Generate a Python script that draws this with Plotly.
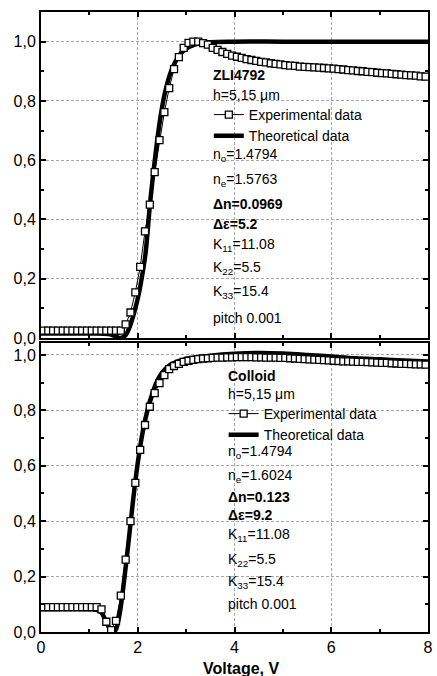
import plotly.graph_objects as go

# ---------------- data ----------------
exp_x = [round(0.05 + 0.1 * i, 2) for i in range(80)]

top_exp_y = [0.025] * 17 + [
    0.046, 0.086, 0.154, 0.24, 0.36, 0.45, 0.56, 0.668, 0.762, 0.843,
    0.907, 0.948, 0.979, 0.996, 1.0, 1.0, 0.995, 0.99, 0.979, 0.972,
    0.965, 0.959, 0.953, 0.949, 0.945, 0.941, 0.938, 0.935, 0.932, 0.93,
    0.927, 0.925, 0.923, 0.921, 0.919, 0.918, 0.916, 0.915, 0.914, 0.913,
    0.912, 0.911, 0.91, 0.909, 0.907, 0.906, 0.904, 0.903, 0.901, 0.9,
    0.898, 0.897, 0.895, 0.894, 0.893, 0.891, 0.89, 0.889, 0.887, 0.886,
    0.885, 0.883, 0.882]

top_th_x = [0.0, 1.0, 1.4, 1.55, 1.65, 1.75, 1.85, 1.95, 2.02, 2.1, 2.16,
            2.26, 2.36, 2.46, 2.56, 2.7, 2.84, 2.97, 3.18, 3.5, 4.0, 5.0,
            6.0, 7.0, 8.0]
top_th_y = [0.015, 0.015, 0.013, 0.005, 0.0, 0.01, 0.045, 0.1, 0.148, 0.22,
            0.284, 0.464, 0.61, 0.735, 0.826, 0.905, 0.95, 0.973, 0.99,
            0.998, 1.0, 1.0, 1.0, 1.0, 1.0]

bot_exp_y = [0.09] * 12 + [
    0.082, 0.037, 0.007, 0.04, 0.131, 0.261, 0.40, 0.538, 0.657, 0.747,
    0.813, 0.862, 0.898, 0.927, 0.949, 0.96, 0.968, 0.975, 0.979, 0.982,
    0.985, 0.987, 0.988, 0.989, 0.99,
    0.99, 0.991, 0.991, 0.992, 0.992, 0.992, 0.992, 0.991, 0.991, 0.99,
    0.99, 0.99, 0.989,
    0.989, 0.988, 0.987, 0.986, 0.985, 0.984, 0.983, 0.982, 0.981, 0.98,
    0.979, 0.978, 0.977, 0.977, 0.976, 0.975, 0.975, 0.974, 0.973, 0.972,
    0.971, 0.971, 0.970, 0.969, 0.968, 0.968, 0.967, 0.966, 0.966, 0.965]

bot_th_x = [0.0, 1.0, 1.15, 1.25, 1.35, 1.45, 1.5, 1.55, 1.62, 1.7, 1.8,
            1.9, 2.0, 2.1, 2.2, 2.3, 2.4, 2.5, 2.6, 2.8, 3.0, 3.5, 4.0, 4.5,
            5.0, 5.5, 6.0, 6.5, 7.0, 7.5, 8.0]
bot_th_y = [0.082, 0.082, 0.08, 0.07, 0.035, 0.005, 0.0, 0.01, 0.06, 0.16,
            0.31, 0.47, 0.61, 0.72, 0.80, 0.86, 0.905, 0.935, 0.955, 0.975,
            0.985, 0.997, 1.004, 1.007, 1.005, 1.0, 0.994, 0.988, 0.984,
            0.98, 0.976]

x_tickvals = [0, 2, 4, 6, 8]
y_tickvals = [0.0, 0.2, 0.4, 0.6, 0.8, 1.0]
y_ticktext = ["0,0", "0,2", "0,4", "0,6", "0,8", "1,0"]

top_text = ["<b>ZLI4792</b>", "h=5,15 \u03bcm"]
top_params = ["n<sub>o</sub>=1.4794", "n<sub>e</sub>=1.5763",
              "<b>\u0394n=0.0969</b>", "<b>\u0394\u03b5=5.2</b>",
              "K<sub>11</sub>=11.08", "K<sub>22</sub>=5.5",
              "K<sub>33</sub>=15.4", "pitch 0.001"]
bot_text = ["<b>Colloid</b>", "h=5,15 \u03bcm"]
bot_params = ["n<sub>o</sub>=1.4794", "n<sub>e</sub>=1.6024",
              "<b>\u0394n=0.123</b>", "<b>\u0394\u03b5=9.2</b>",
              "K<sub>11</sub>=11.08", "K<sub>22</sub>=5.5",
              "K<sub>33</sub>=15.4", "pitch 0.001"]

# ---------------- layout helpers ----------------
W, H = 437, 676
ML, MR, MT, MB = 41, 4, 12, 44
PW, PH = W - ML - MR, H - MT - MB
FONT = "Liberation Sans, Arial, sans-serif"


def px(xp):
    return (xp - ML) / PW


def py(yp):
    return (H - MB - yp) / PH


fig = go.Figure()

exp_marker = dict(symbol="square", size=7, color="white",
                  line=dict(color="black", width=1.3))

fig.add_trace(go.Scatter(x=top_th_x, y=top_th_y, mode="lines",
                         line=dict(color="black", width=4.5, shape="spline"),
                         name="Theoretical data", xaxis="x", yaxis="y",
                         legend="legend", legendrank=2))
fig.add_trace(go.Scatter(x=exp_x, y=top_exp_y, mode="lines+markers",
                         line=dict(color="black", width=1),
                         marker=exp_marker, name="Experimental data",
                         xaxis="x", yaxis="y", legend="legend", legendrank=1))
fig.add_trace(go.Scatter(x=bot_th_x, y=bot_th_y, mode="lines",
                         line=dict(color="black", width=4.5, shape="spline"),
                         name="Theoretical data", xaxis="x2", yaxis="y2",
                         legend="legend2", legendrank=2))
fig.add_trace(go.Scatter(x=exp_x, y=bot_exp_y, mode="lines+markers",
                         line=dict(color="black", width=1),
                         marker=exp_marker, name="Experimental data",
                         xaxis="x2", yaxis="y2", legend="legend2",
                         legendrank=1))

axis_common = dict(showline=True, linecolor="black", linewidth=2,
                   mirror="ticks", ticks="inside", ticklen=5, tickwidth=1.5,
                   tickcolor="black", showgrid=True, gridcolor="#a8a8a8",
                   griddash="3px,2px", gridwidth=1, zeroline=False,
                   tickfont=dict(family=FONT, size=16, color="black"))

xaxis_common = dict(axis_common, range=[0, 8], tickvals=x_tickvals,
                    minor=dict(dtick=1, tick0=0, ticks="inside", ticklen=3,
                               tickwidth=1.5, tickcolor="black",
                               showgrid=False))
yaxis_common = dict(axis_common, tickvals=y_tickvals, ticktext=y_ticktext,
                    minor=dict(dtick=0.1, tick0=0, ticks="inside", ticklen=3,
                               tickwidth=1.5, tickcolor="black",
                               showgrid=False))

top_dom = [py(338), 1.0]
bot_dom = [0.0, py(343)]

annotations = []


def add_text(t, xp, yp, size=14):
    annotations.append(dict(text=t, x=px(xp), y=py(yp), xref="paper",
                            yref="paper", xanchor="left", yanchor="middle",
                            showarrow=False,
                            font=dict(family=FONT, size=size, color="black")))


for t, yp in zip(top_text, [75, 95]):
    add_text(t, 213, yp)
for t, yp in zip(top_params, [155, 180, 204, 224, 245, 268, 292, 318]):
    add_text(t, 213, yp)
for t, yp in zip(bot_text, [376, 394]):
    add_text(t, 228, yp)
for t, yp in zip(bot_params, [452, 476, 497, 515, 535, 560, 582, 604]):
    add_text(t, 228, yp)

annotations.append(dict(text="<b>Voltage, V</b>", x=px(244), y=py(668),
                        xref="paper", yref="paper", xanchor="center",
                        yanchor="middle", showarrow=False,
                        font=dict(family=FONT, size=16, color="black")))

legend_common = dict(bgcolor="rgba(0,0,0,0)", borderwidth=0,
                     xanchor="left", yanchor="top", tracegroupgap=0,
                     traceorder="normal", itemwidth=30,
                     font=dict(family=FONT, size=14, color="black"))

fig.update_layout(
    width=W, height=H,
    margin=dict(l=ML, r=MR, t=MT, b=MB, pad=0),
    paper_bgcolor="white", plot_bgcolor="white",
    showlegend=True,
    xaxis=dict(xaxis_common, domain=[0, 1], anchor="y", showticklabels=False),
    yaxis=dict(yaxis_common, domain=top_dom, range=[0, 1.1], anchor="x"),
    xaxis2=dict(xaxis_common, domain=[0, 1], anchor="y2"),
    yaxis2=dict(yaxis_common, domain=bot_dom, range=[0, 1.043], anchor="x2"),
    legend=dict(legend_common, x=px(211), y=py(99)),
    legend2=dict(legend_common, x=px(226), y=py(398)),
    annotations=annotations,
)

fig.write_html("out.html",
               config={"displayModeBar": False},
               post_script="document.body.style.margin='0px';"
                           "document.body.style.overflow='hidden';")
